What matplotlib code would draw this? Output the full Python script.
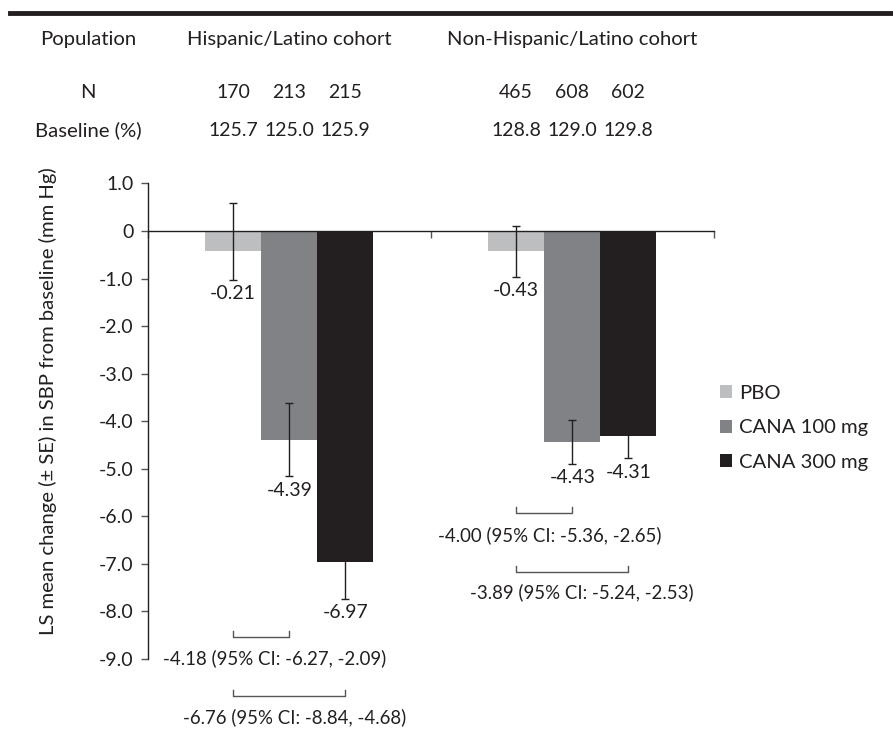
import matplotlib
matplotlib.use("Agg")
import matplotlib.pyplot as plt
from matplotlib.lines import Line2D
from matplotlib.patches import Patch
import numpy as np

# ---------------- data ----------------
cohorts = ["Hispanic/Latino cohort", "Non-Hispanic/Latino cohort"]
treatments = ["PBO", "CANA 100 mg", "CANA 300 mg"]
n_hisp = ["170", "213", "215"]
n_nonhisp = ["465", "608", "602"]
base_hisp = ["125.7", "125.0", "125.9"]
base_nonhisp = ["128.8", "129.0", "129.8"]
# bar heights as drawn
bar_hisp = [-0.43, -4.39, -6.97]
bar_nonhisp = [-0.43, -4.43, -4.31]
# LS mean (label / error-bar centre) and SE
lsm_hisp = [-0.21, -4.39, -6.97]
lsm_nonhisp = [-0.43, -4.43, -4.31]
se_hisp = [0.81, 0.77, 0.76]
se_nonhisp = [0.53, 0.46, 0.47]
# placebo-subtracted differences
diff_hisp = ["-4.18 (95% CI: -6.27, -2.09)", "-6.76 (95% CI: -8.84, -4.68)"]
diff_nonhisp = ["-4.00 (95% CI: -5.36, -2.65)", "-3.89 (95% CI: -5.24, -2.53)"]
yticks = [1, 0, -1, -2, -3, -4, -5, -6, -7, -8, -9]
yticklabels = ["1.0", "0", "-1.0", "-2.0", "-3.0", "-4.0", "-5.0", "-6.0", "-7.0", "-8.0", "-9.0"]

# ---------------- style ----------------
plt.rcParams['font.family'] = ['Lato', 'DejaVu Sans']
TXT = "#231f20"
colors = ["#bcbec0", "#808285", "#231f20"]
FS = 14.6
FS_NUM = 13.4

W, H = 893, 736
fig = plt.figure(figsize=(W / 100, H / 100), dpi=100)
ax = fig.add_axes([147.7 / W, 1 - 659 / H, 566 / W, (659 - 183.5) / H])

group_centers = np.array([0.5, 1.5])
bw = 0.198
offsets = np.array([-bw, 0, bw])

bars_all = [bar_hisp, bar_nonhisp]
lsm_all = [lsm_hisp, lsm_nonhisp]
se_all = [se_hisp, se_nonhisp]

for t in range(3):
    xs = group_centers + offsets[t]
    hs = [bars_all[g][t] for g in range(2)]
    ax.bar(xs, hs, width=bw, color=colors[t], label=treatments[t], zorder=2, linewidth=0)

for g in range(2):
    xs = group_centers[g] + offsets
    ax.errorbar(xs, lsm_all[g], yerr=se_all[g], fmt='none', ecolor="#231f20",
                elinewidth=1.0, capsize=2.6, capthick=1.0, zorder=3)
    for t in range(3):
        low = lsm_all[g][t] - se_all[g][t]
        ax.annotate(f"{lsm_all[g][t]:.2f}", xy=(xs[t], low), xytext=(0, -10),
                    textcoords='offset points', ha='center', va='center',
                    fontsize=FS_NUM + 0.6, color=TXT, annotation_clip=False)

ax.set_xlim(0, 2)
ax.set_ylim(-9, 1)
ax.set_xticks([0, 1, 2])
ax.set_xticklabels([])
ax.set_yticks(yticks)
ax.set_yticklabels(yticklabels, fontsize=FS_NUM + 0.6, color=TXT)
ax.spines['top'].set_visible(False)
ax.spines['right'].set_visible(False)
ax.spines['bottom'].set_position(('data', 0))
for s in ['left', 'bottom']:
    ax.spines[s].set_color(TXT)
    ax.spines[s].set_linewidth(1.0)
ax.tick_params(axis='both', direction='out', length=5, width=1.0, color="#555555", pad=5)
ax.patch.set_visible(False)

ax.set_ylabel("LS mean change (± SE) in SBP from baseline (mm Hg)", fontsize=FS, color=TXT)
ax.yaxis.set_label_coords(57 / W, 1 - 401 / H, transform=fig.transFigure)

# ---------------- brackets & difference text ----------------
def bracket(x0, x1, y, h=0.12):
    ax.plot([x0, x0, x1, x1], [y + h, y, y, y + h], color="#555555", lw=1.0,
            clip_on=False, zorder=3)

bracket_levels_hisp = [-8.54, -9.78]
bracket_levels_nonhisp = [-5.93, -7.16]
text_pos_hisp = [(0.45, -8.99), (0.52, -10.23)]
text_pos_nonhisp = [(1.422, -6.39), (1.533, -7.60)]
levels = [bracket_levels_hisp, bracket_levels_nonhisp]
tpos = [text_pos_hisp, text_pos_nonhisp]
dtexts = [diff_hisp, diff_nonhisp]
for g in range(2):
    xs = group_centers[g] + offsets
    for k in range(2):
        bracket(xs[0], xs[k + 1], levels[g][k])
        ax.text(tpos[g][k][0], tpos[g][k][1], dtexts[g][k], ha='center', va='center',
                fontsize=FS_NUM, color=TXT, clip_on=False)

# ---------------- header table ----------------
def data_x_to_fig(x):
    return (147.7 + x * 283) / W

row_y = [1 - 40 / H, 1 - 92 / H, 1 - 130 / H]
left_x = 88 / W
fig.text(left_x, row_y[0], "Population", ha='center', va='center', fontsize=FS, color=TXT)
fig.text(left_x, row_y[1], "N", ha='center', va='center', fontsize=FS, color=TXT)
fig.text(left_x, row_y[2], "Baseline (%)", ha='center', va='center', fontsize=FS, color=TXT)
ns = [n_hisp, n_nonhisp]
bs = [base_hisp, base_nonhisp]
for g in range(2):
    fig.text(data_x_to_fig(group_centers[g]), row_y[0], cohorts[g], ha='center', va='center',
             fontsize=FS, color=TXT)
    for t in range(3):
        xf = data_x_to_fig(group_centers[g] + offsets[t])
        fig.text(xf, row_y[1], ns[g][t], ha='center', va='center', fontsize=FS_NUM + 0.6, color=TXT)
        fig.text(xf, row_y[2], bs[g][t], ha='center', va='center', fontsize=FS_NUM + 0.6, color=TXT)

fig.add_artist(Line2D([10 / W, 1.0], [1 - 12.5 / H, 1 - 12.5 / H], color="#231f20", lw=3.5))

# ---------------- legend ----------------
handles = [Patch(facecolor=c, edgecolor='none') for c in colors]
leg = fig.legend(handles, treatments, loc='upper left', bbox_to_anchor=(714 / W, 1 - 379 / H),
                 frameon=False, fontsize=FS, handlelength=0.6, handleheight=0.6,
                 handletextpad=0.35, labelspacing=0.85, borderaxespad=0, borderpad=0.3)
for txt in leg.get_texts():
    txt.set_color(TXT)

fig.savefig("out.png", dpi=100)
